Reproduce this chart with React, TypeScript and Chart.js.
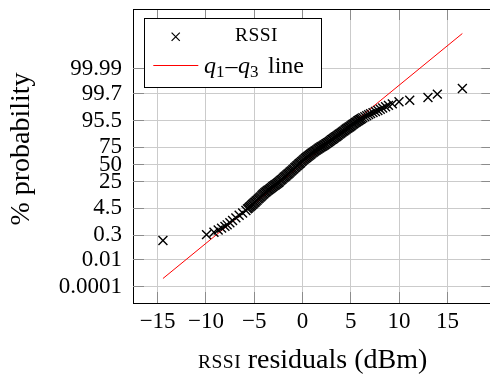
import React, { useEffect, useRef } from 'react';
import { Chart, registerables } from 'chart.js';

Chart.register(...registerables);

// Sorted RSSI residuals (dBm)
const residuals = [
  -14.45, -9.94, -9.17, -8.73, -8.38, -8.03, -7.8, -7.52, -7.24, -6.9, -6.56, -6.2, -5.86,
  -5.7, -5.6, -5.5, -5.4, -5.3, -5.2, -5.1, -5.0, -4.9, -4.8, -4.7, -4.6, -4.5, -4.4, -4.3, -4.2,
  -4.1, -4.0, -3.9, -3.8, -3.7, -3.6, -3.5, -3.4, -3.3, -3.2, -3.1, -3.0, -2.9, -2.8, -2.7, -2.6,
  -2.5, -2.4, -2.3, -2.2, -2.1, -2.0, -1.9, -1.8, -1.7, -1.6, -1.5, -1.4, -1.3, -1.2, -1.1, -1.0,
  -0.9, -0.8, -0.7, -0.6, -0.5, -0.4, -0.3, -0.2, -0.1, 0.0, 0.1, 0.2, 0.3, 0.4, 0.5, 0.6,
  0.7, 0.8, 0.9, 1.0, 1.1, 1.2, 1.3, 1.4, 1.5, 1.6, 1.7, 1.8, 1.9, 2.0, 2.1, 2.2,
  2.3, 2.4, 2.5, 2.6, 2.7, 2.8, 2.9, 3.0, 3.1, 3.2, 3.3, 3.4, 3.5, 3.6, 3.7, 3.8,
  3.9, 4.0, 4.1, 4.2, 4.3, 4.4, 4.5, 4.6, 4.7, 4.8, 4.9, 5.0, 5.1, 5.2, 5.3, 5.4,
  5.5, 5.6, 5.7, 5.8, 5.9, 6.0, 6.1,
  6.25, 6.45, 6.65, 6.85, 7.05, 7.3, 7.55, 7.8, 8.05, 8.3, 8.6, 8.9, 9.3,
  9.99, 11.1, 12.99, 13.96, 16.55,
];

// Normal-probability position of each residual, in standard deviations
const sigma = [
  -2.96, -2.73, -2.64, -2.55, -2.48, -2.41, -2.35, -2.27, -2.18, -2.08, -1.98, -1.89, -1.79,
  -1.73, -1.7, -1.66, -1.63, -1.6, -1.56, -1.53, -1.49, -1.46, -1.42, -1.39, -1.35, -1.32, -1.28, -1.25, -1.21,
  -1.17, -1.14, -1.1, -1.07, -1.04, -1.01, -0.99, -0.96, -0.93, -0.9, -0.87, -0.84, -0.81, -0.79, -0.76, -0.73,
  -0.7, -0.67, -0.63, -0.6, -0.57, -0.53, -0.5, -0.47, -0.44, -0.4, -0.37, -0.34, -0.3, -0.27, -0.24, -0.2,
  -0.17, -0.13, -0.1, -0.06, -0.03, 0.01, 0.04, 0.07, 0.11, 0.14, 0.18, 0.21, 0.24, 0.27, 0.3, 0.33,
  0.36, 0.39, 0.42, 0.45, 0.47, 0.5, 0.53, 0.55, 0.58, 0.6, 0.63, 0.65, 0.68, 0.7, 0.72, 0.75,
  0.77, 0.8, 0.82, 0.85, 0.87, 0.9, 0.93, 0.96, 0.98, 1.01, 1.04, 1.07, 1.09, 1.12, 1.15, 1.18,
  1.2, 1.23, 1.26, 1.29, 1.31, 1.34, 1.37, 1.4, 1.42, 1.45, 1.47, 1.5, 1.53, 1.56, 1.58, 1.61,
  1.64, 1.66, 1.69, 1.71, 1.74, 1.76, 1.79,
  1.82, 1.86, 1.9, 1.94, 1.98, 2.02, 2.06, 2.1, 2.15, 2.2, 2.25, 2.3, 2.36,
  2.44, 2.5, 2.61, 2.74, 2.96,
];

// q1–q3 reference line, spanning the residual range
const refLineX = [-14.45, 16.55];
const refLineSigma = [-4.44, 5.1];

const xTicks = [-15, -10, -5, 0, 5, 10, 15];
const probTickLabels = ['0.0001', '0.01', '0.3', '4.5', '25', '50', '75', '95.5', '99.7', '99.99'];

const X_MIN = -17.55;
const X_MAX = 19.65;
const Y_MIN = -5.394;
const Y_MAX = 6.054;

// Inverse of the standard normal CDF (Acklam's rational approximation)
function probit(p: number): number {
  const a = [-3.969683028665376e1, 2.209460984245205e2, -2.759285104469687e2, 1.38357751867269e2, -3.066479806614716e1, 2.506628277459239];
  const b = [-5.447609879822406e1, 1.615858368580409e2, -1.556989798598866e2, 6.680131188771972e1, -1.328068155288572e1];
  const c = [-7.784894002430293e-3, -3.223964580411365e-1, -2.400758277161838, -2.549732539343734, 4.374664141464968, 2.938163982698783];
  const d = [7.784695709041462e-3, 3.224671290700398e-1, 2.445134137142996, 3.754408661907416];
  const plow = 0.02425;
  if (p < plow) {
    const q = Math.sqrt(-2 * Math.log(p));
    return (((((c[0] * q + c[1]) * q + c[2]) * q + c[3]) * q + c[4]) * q + c[5]) / ((((d[0] * q + d[1]) * q + d[2]) * q + d[3]) * q + 1);
  }
  if (p <= 1 - plow) {
    const q = p - 0.5;
    const r = q * q;
    return ((((((a[0] * r + a[1]) * r + a[2]) * r + a[3]) * r + a[4]) * r + a[5]) * q) / (((((b[0] * r + b[1]) * r + b[2]) * r + b[3]) * r + b[4]) * r + 1);
  }
  const q = Math.sqrt(-2 * Math.log(1 - p));
  return -(((((c[0] * q + c[1]) * q + c[2]) * q + c[3]) * q + c[4]) * q + c[5]) / ((((d[0] * q + d[1]) * q + d[2]) * q + d[3]) * q + 1);
}

const SERIF = "'Liberation Serif', 'Times New Roman', serif";
const TICK_LEN = 11;
const MARK_RADIUS = 6.3;
const MARK_WIDTH = 1.4;

const align = (v: number) => Math.round(v - 0.5) + 0.5;

function drawCross(ctx: CanvasRenderingContext2D, x: number, y: number, h: number) {
  ctx.beginPath();
  ctx.moveTo(x - h, y - h);
  ctx.lineTo(x + h, y + h);
  ctx.moveTo(x + h, y - h);
  ctx.lineTo(x - h, y + h);
  ctx.stroke();
}

// Inner tick marks on all four sides, closing frame, titles and legend
const frameTicks = {
  id: 'frameTicks',
  beforeDatasetsDraw(chart: any) {
    const { ctx, chartArea: a, scales } = chart;
    ctx.save();
    ctx.strokeStyle = '#8c8c8c';
    ctx.lineWidth = 1;
    ctx.beginPath();
    for (const t of scales.y.ticks) {
      const y = align(scales.y.getPixelForValue(t.value));
      ctx.moveTo(a.left, y);
      ctx.lineTo(a.left + TICK_LEN, y);
      ctx.moveTo(a.right - TICK_LEN, y);
      ctx.lineTo(a.right, y);
    }
    for (const t of scales.x.ticks) {
      const x = align(scales.x.getPixelForValue(t.value));
      ctx.moveTo(x, a.bottom);
      ctx.lineTo(x, a.bottom - TICK_LEN);
      ctx.moveTo(x, a.top);
      ctx.lineTo(x, a.top + TICK_LEN);
    }
    ctx.stroke();
    ctx.restore();
  },
  afterDraw(chart: any) {
    const { ctx, chartArea: a } = chart;
    ctx.save();
    ctx.strokeStyle = '#000';
    ctx.lineWidth = 1;
    ctx.beginPath();
    ctx.moveTo(align(a.left), align(a.top));
    ctx.lineTo(align(a.right), align(a.top));
    ctx.lineTo(align(a.right), align(a.bottom));
    ctx.stroke();

    // y axis title
    ctx.fillStyle = '#000';
    ctx.font = `28px ${SERIF}`;
    ctx.textAlign = 'center';
    ctx.textBaseline = 'alphabetic';
    ctx.save();
    ctx.translate(28.5, 149);
    ctx.rotate(-Math.PI / 2);
    ctx.fillText('% probability', 0, 0);
    ctx.restore();

    // x axis title: small-caps "RSSI" followed by the rest
    const capsFont = `19.5px ${SERIF}`;
    const bodyFont = `28px ${SERIF}`;
    ctx.textAlign = 'left';
    ctx.font = capsFont;
    const capsW = ctx.measureText('RSSI').width + 1.5;
    ctx.font = bodyFont;
    const restW = ctx.measureText(' residuals (dBm)').width;
    const cx = (a.left + a.right) / 2;
    let tx = cx - (capsW + restW) / 2;
    const ty = 368;
    ctx.font = capsFont;
    (ctx as any).letterSpacing = '0.5px';
    ctx.fillText('RSSI', tx, ty);
    (ctx as any).letterSpacing = '0px';
    tx += capsW;
    ctx.font = bodyFont;
    ctx.fillText(' residuals (dBm)', tx, ty);

    // legend
    const lx = 144.5, ly = 18.5, lw = 177, lh = 69;
    ctx.fillStyle = '#fff';
    ctx.fillRect(lx, ly, lw, lh);
    ctx.strokeStyle = '#000';
    ctx.lineWidth = 1;
    ctx.strokeRect(lx, ly, lw, lh);

    ctx.strokeStyle = '#000';
    ctx.lineWidth = 1.2;
    drawCross(ctx, 175.7, 36.7, 4.1);
    ctx.lineWidth = 1;
    ctx.fillStyle = '#000';
    ctx.font = capsFont;
    ctx.textAlign = 'center';
    (ctx as any).letterSpacing = '0.5px';
    ctx.fillText('RSSI', 256.5, 40.5);
    (ctx as any).letterSpacing = '0px';

    ctx.strokeStyle = '#ff0000';
    ctx.beginPath();
    ctx.moveTo(153.3, 65.5);
    ctx.lineTo(198.3, 65.5);
    ctx.stroke();

    ctx.textAlign = 'left';
    const base = 72.5;
    const italic = `italic 24px ${SERIF}`;
    const sub = `17px ${SERIF}`;
    ctx.font = italic;
    ctx.fillText('q', 204, base);
    ctx.font = sub;
    ctx.fillText('1', 216, base + 4.5);
    ctx.font = `24px ${SERIF}`;
    ctx.fillText('\u2013', 225.5, base);
    ctx.font = italic;
    ctx.fillText('q', 238, base);
    ctx.font = sub;
    ctx.fillText('3', 250, base + 4.5);
    ctx.font = `24px ${SERIF}`;
    ctx.fillText('line', 268, base);
    ctx.restore();
  },
};

export default function App() {
  const canvasRef = useRef<HTMLCanvasElement | null>(null);

  useEffect(() => {
    const canvas = canvasRef.current;
    if (!canvas) return;
    const points = residuals.map((x, i) => ({ x, y: sigma[i] }));
    const line = refLineX.map((x, i) => ({ x, y: refLineSigma[i] }));

    const chart = new Chart(canvas, {
      type: 'scatter',
      data: {
        datasets: [
          {
            label: 'RSSI',
            data: points,
            pointStyle: 'crossRot',
            pointRadius: MARK_RADIUS,
            pointHoverRadius: MARK_RADIUS,
            borderColor: '#000',
            backgroundColor: '#000',
            borderWidth: MARK_WIDTH,
            showLine: false,
          },
          {
            label: 'q1–q3 line',
            data: line,
            showLine: true,
            borderColor: '#ff0000',
            borderWidth: 1,
            pointRadius: 0,
            fill: false,
          },
        ],
      },
      options: {
        responsive: false,
        animation: false,
        events: [],
        devicePixelRatio: 1,
        layout: { padding: { top: 9, right: 7, left: 0, bottom: 0 } },
        plugins: { legend: { display: false }, tooltip: { enabled: false } },
        scales: {
          x: {
            type: 'linear',
            min: X_MIN,
            max: X_MAX,
            afterBuildTicks: (scale: any) => {
              scale.ticks = xTicks.map((v) => ({ value: v }));
            },
            afterFit: (scale: any) => {
              scale.height = 74;
              scale.paddingLeft = 0;
              scale.paddingRight = 0;
            },
            grid: { color: '#cbcbcb', lineWidth: 1, drawTicks: false },
            border: { color: '#000', width: 1 },
            ticks: {
              autoSkip: false,
              maxRotation: 0,
              padding: 5,
              color: '#000',
              font: { family: SERIF, size: 23 },
              callback: (v: any) => (Number(v) < 0 ? '\u2212' + Math.abs(Number(v)) : String(v)),
            },
          },
          y: {
            type: 'linear',
            min: Y_MIN,
            max: Y_MAX,
            afterBuildTicks: (scale: any) => {
              scale.ticks = probTickLabels.map((l) => ({ value: probit(parseFloat(l) / 100) }));
            },
            afterFit: (scale: any) => {
              scale.width = 133;
              scale.paddingTop = 0;
              scale.paddingBottom = 0;
            },
            grid: { color: '#cbcbcb', lineWidth: 1, drawTicks: false },
            border: { color: '#000', width: 1 },
            ticks: {
              autoSkip: false,
              padding: 11,
              color: '#000',
              font: { family: SERIF, size: 23 },
              callback: (_v: any, i: number) => probTickLabels[i],
            },
          },
        },
      },
      plugins: [frameTicks],
    });
    return () => chart.destroy();
  }, []);

  return (
    <div style={{ position: 'fixed', left: 0, top: 0, width: 490, height: 377, overflow: 'hidden', background: '#fff' }}>
      <canvas ref={canvasRef} width={500} height={377} style={{ width: 500, height: 377, display: 'block' }} />
    </div>
  );
}
